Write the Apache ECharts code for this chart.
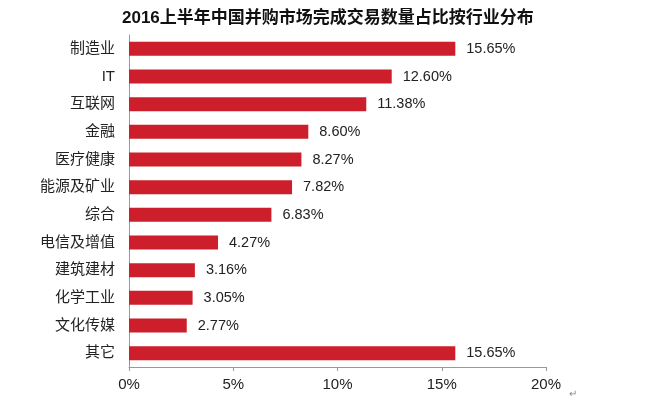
<!DOCTYPE html>
<html><head><meta charset="utf-8">
<script src="https://cdn.jsdelivr.net/npm/echarts@6/dist/echarts.min.js"></script>
<style>html,body{margin:0;padding:0;background:#fff}#c{width:649px;height:400px}</style>
</head><body><div id="c"></div>
<script>
var title = '2016上半年中国并购市场完成交易数量占比按行业分布';
var categories = ['制造业','IT','互联网','金融','医疗健康','能源及矿业','综合','电信及增值','建筑建材','化学工业','文化传媒','其它'];
var values = [15.65,12.60,11.38,8.60,8.27,7.82,6.83,4.27,3.16,3.05,2.77,15.65];
var xTicks = [0,5,10,15,20];
var FONT = '"Liberation Sans", "Noto Sans CJK SC", sans-serif';
var chart = echarts.init(document.getElementById('c'));
chart.setOption({
  animation:false,
  title:{text:title,left:117,top:5,textStyle:{fontSize:17,fontWeight:'bold',color:'#111',fontFamily:FONT}},
  grid:{left:129,right:103,top:35,bottom:33,containLabel:false},
  xAxis:{type:'value',min:xTicks[0],max:xTicks[xTicks.length-1],interval:5,
    axisLine:{show:true,lineStyle:{color:'#999'}},
    axisTick:{show:true,length:4,lineStyle:{color:'#999'}},
    splitLine:{show:false},
    axisLabel:{formatter:'{value}%',fontSize:15,color:'#222',margin:10,fontFamily:FONT}},
  yAxis:{type:'category',inverse:true,data:categories,
    axisLine:{show:true,lineStyle:{color:'#999'}},
    axisTick:{show:false},
    axisLabel:{fontSize:15,color:'#222',margin:14,fontFamily:FONT}},
  series:[{type:'bar',data:values,barWidth:14,
    itemStyle:{color:'#cc1f2b'},
    label:{show:true,position:'right',distance:11,fontSize:14.5,color:'#222',fontFamily:FONT,
      formatter:function(p){return p.value.toFixed(2)+'%';}}}],
  graphic:[{type:'text',left:569,top:389,style:{text:'↵',fontSize:10,fill:'#888'}}]
});
</script></body></html>
